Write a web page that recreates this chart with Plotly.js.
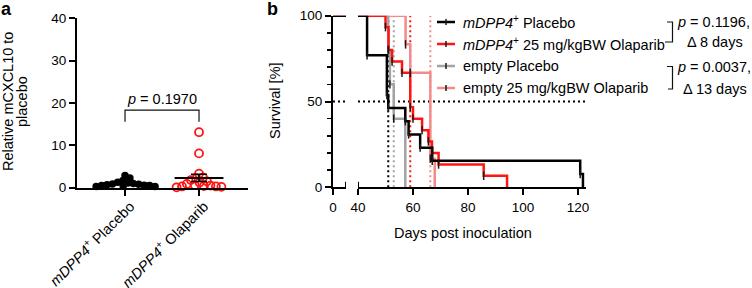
<!DOCTYPE html>
<html>
<head>
<meta charset="utf-8">
<script src="https://cdn.plot.ly/plotly-3.0.1.min.js"></script>
<style>
  html, body { margin: 0; padding: 0; background: #fff; }
  #chart { width: 752px; height: 288px; }
</style>
</head>
<body>
<div id="chart"></div>
<script>
// ---- Panel a: relative mCXCL10 per mouse ----
const groupLabels = ['<i>mDPP4</i><sup>+</sup> Placebo', '<i>mDPP4</i><sup>+</sup> Olaparib'];
const placeboValues = [2.9, 2.3, 1.7, 1.3, 1.1, 1.0, 0.9, 0.8, 0.7, 0.6, 0.5, 0.5, 0.4, 0.3, 0.3];
const olaparibValues = [13.1, 8.1, 3.3, 2.4, 2.2, 1.8, 1.5, 1.2, 0.9, 0.6, 0.5, 0.4, 0.3, 0.3, 0.2, 0.1];
const pValueA = '0.1970';

// ---- Panel b: Kaplan-Meier survival (day of event, survival % after it) ----
const seriesNames = [
  '<i>mDPP4</i><sup>+</sup> Placebo',
  '<i>mDPP4</i><sup>+</sup> 25 mg/kgBW Olaparib',
  'empty Placebo',
  'empty 25 mg/kgBW Olaparib'
];
const dppPlaceboDays = [0, 43.3, 50.5, 51.0, 57.2, 58.4, 62.6, 67.0, 120.8, 121.8];
const dppPlaceboSurv = [100, 76.9, 53.8, 46.2, 38.5, 30.8, 23.1, 15.4, 7.7, 0];
const dppOlaDays = [0, 50.0, 51.1, 52.4, 56.0, 59.0, 60.0, 63.3, 65.6, 66.9, 69.3, 85.7, 94.2];
const dppOlaSurv = [100, 93.3, 80.0, 73.3, 66.7, 46.7, 40.0, 33.3, 26.7, 20.0, 13.3, 6.7, 0];
const emptyPlaceboDays = [0, 51.0, 51.6, 53.0, 57.2];
const emptyPlaceboSurv = [100, 80, 60, 40, 0];
const emptyOlaDays = [0, 57.3, 59.0, 66.3, 67.9];
const emptyOlaSurv = [100, 83.3, 66.7, 16.7, 0];
const pValuesB = ['0.1196', '0.0037'];

const BLACK = '#000000', RED = '#ff1414', GRAY = '#a3a3a3', PINK = '#f48a8a';
const INK = '#000000';
const FONT = 'Liberation Sans, Arial, sans-serif';
const TXT = 14.5, TICK = 13.5;

// page geometry helpers (pixels -> paper fractions)
const W = 752, H = 288;
const fx = p => p / W;
const fy = p => 1 - p / H;

// ---- statistics ----
const mean = a => a.reduce((s, v) => s + v, 0) / a.length;
const sem = a => {
  const m = mean(a);
  return Math.sqrt(a.reduce((s, v) => s + (v - m) * (v - m), 0) / (a.length - 1) / a.length);
};
function kmMedian(days, surv) {
  for (let i = 0; i < days.length; i++) if (surv[i] <= 50) return days[i];
  return null;
}

// ---- simple beeswarm layout in pixel space ----
const aXDomain = [77, 248], aYDomain = [187.7, 18.3];
const aXRange = [-0.649, 1.662], aYRange = [0, 40];
const pxPerCat = (aXDomain[1] - aXDomain[0]) / (aXRange[1] - aXRange[0]);
const pxPerUnit = (aYDomain[0] - aYDomain[1]) / (aYRange[1] - aYRange[0]);
function swarm(values, center, d) {
  const order = values.map((v, i) => i).sort((a, b) => values[b] - values[a]);
  const placed = [];
  const xs = new Array(values.length);
  order.forEach(i => {
    const y = values[i] * pxPerUnit;
    const cands = [0];
    placed.forEach(p => {
      const dy = Math.abs(p.y - y);
      if (dy < d) {
        const dx = Math.sqrt(d * d - dy * dy);
        cands.push(p.x + dx, p.x - dx);
      }
    });
    cands.sort((a, b) => Math.abs(a) - Math.abs(b));
    const ok = c => placed.every(p => (p.x - c) ** 2 + (p.y - y) ** 2 >= d * d - 1e-6);
    const x = cands.find(ok);
    placed.push({ x, y });
    xs[i] = center + x / pxPerCat;
  });
  return xs;
}

const traces = [];

// panel a dots
traces.push({
  type: 'scatter', mode: 'markers', xaxis: 'x', yaxis: 'y', cliponaxis: false, showlegend: false,
  x: swarm(placeboValues, 0, 5.5), y: placeboValues,
  marker: { symbol: 'circle', size: 7.5, color: BLACK, line: { width: 0 } }
});
traces.push({
  type: 'scatter', mode: 'markers', xaxis: 'x', yaxis: 'y', cliponaxis: false, showlegend: false,
  x: swarm(olaparibValues, 1, 5.5), y: olaparibValues,
  marker: { symbol: 'circle-open', size: 8, color: RED, line: { width: 1.8, color: RED } }
});
// mean lines with SEM
[[placeboValues, 0, BLACK], [olaparibValues, 1, BLACK]].forEach(([vals, c, col]) => {
  const m = mean(vals), s = sem(vals);
  traces.push({
    type: 'scatter', mode: 'lines', xaxis: 'x', yaxis: 'y', cliponaxis: false, showlegend: false,
    x: [c - 0.33, c + 0.33], y: [m, m], line: { color: col, width: 2 }
  });
  traces.push({
    type: 'scatter', mode: 'markers', xaxis: 'x', yaxis: 'y', cliponaxis: false, showlegend: false,
    x: [c], y: [m], marker: { size: 1, opacity: 0 },
    error_y: { type: 'data', array: [s], visible: true, color: col, thickness: 1.5, width: 8 }
  });
});

// ---- panel b ----
const seg1 = [0, 13 / 2.75];
const seg2 = [40, 40 + 228 / 2.75];

function clipSteps(days, surv, lo, hi) {
  const valueAt = t => { let v = surv[0]; days.forEach((d, i) => { if (d <= t) v = surv[i]; }); return v; };
  const xs = [lo], ys = [valueAt(lo)];
  days.forEach((d, i) => { if (d > lo && d < hi) { xs.push(d); ys.push(surv[i]); } });
  if (days[days.length - 1] > hi) { xs.push(hi); ys.push(valueAt(hi)); }
  return { xs, ys };
}

const curves = [
  { name: seriesNames[3], days: emptyOlaDays, surv: emptyOlaSurv, color: PINK },
  { name: seriesNames[2], days: emptyPlaceboDays, surv: emptyPlaceboSurv, color: GRAY },
  { name: seriesNames[1], days: dppOlaDays, surv: dppOlaSurv, color: RED },
  { name: seriesNames[0], days: dppPlaceboDays, surv: dppPlaceboSurv, color: BLACK }
];
const DOT = '2px,3px';

// 50 % reference line on both axis segments
[['x2', seg1], ['x3', seg2]].forEach(([ax, r]) => {
  traces.push({
    type: 'scatter', mode: 'lines', xaxis: ax, yaxis: 'y2', showlegend: false, cliponaxis: false,
    x: r, y: [50, 50], line: { color: BLACK, width: 2, dash: DOT }
  });
});
// median survival lines
curves.forEach(cv => {
  const med = kmMedian(cv.days, cv.surv);
  traces.push({
    type: 'scatter', mode: 'lines', xaxis: 'x3', yaxis: 'y2', showlegend: false, cliponaxis: false,
    x: [med, med], y: [0, 100], line: { color: cv.color, width: 2, dash: DOT }
  });
});
// survival curves
curves.forEach(cv => {
  [['x2', seg1], ['x3', seg2]].forEach(([ax, r]) => {
    const c = clipSteps(cv.days, cv.surv, r[0], r[1]);
    traces.push({
      type: 'scatter', mode: 'lines', xaxis: ax, yaxis: 'y2', showlegend: false, cliponaxis: false,
      x: c.xs, y: c.ys, line: { color: cv.color, width: 2.5, shape: 'hv' }
    });
  });
});
// event tick marks
curves.forEach(cv => {
  const ex = [], ey = [];
  cv.days.forEach((d, i) => { if (d > 0 && cv.surv[i] > 0) { ex.push(d); ey.push(cv.surv[i]); } });
  traces.push({
    type: 'scatter', mode: 'markers', xaxis: 'x3', yaxis: 'y2', showlegend: false, cliponaxis: false,
    x: ex, y: ey, marker: { symbol: 'line-ns', size: 6, line: { width: 1.5, color: '#1a1a1a' } }
  });
});

// ---- legend, drawn as shapes + text ----
const shapes = [];
const annotations = [];
const legendRows = [22, 44, 66, 88];
const legendOrder = [3, 2, 1, 0];
legendOrder.forEach((ci, row) => {
  const cv = curves[ci], y = legendRows[row];
  shapes.push({ type: 'line', xref: 'paper', yref: 'paper', x0: fx(437), x1: fx(455), y0: fy(y), y1: fy(y),
    line: { color: cv.color, width: 2.5 } });
  shapes.push({ type: 'line', xref: 'paper', yref: 'paper', x0: fx(446), x1: fx(446), y0: fy(y - 3), y1: fy(y + 3),
    line: { color: '#1a1a1a', width: 1.5 } });
  annotations.push({ xref: 'paper', yref: 'paper', x: fx(461), y: fy(y), xanchor: 'left', yanchor: 'middle',
    text: cv.name, showarrow: false, font: { family: FONT, size: TXT, color: INK } });
});

// comparison brackets with p-values and median differences
const medians = curves.map(cv => kmMedian(cv.days, cv.surv));
const deltas = [Math.round(medians[2] - medians[3]), Math.round(medians[0] - medians[1])];
[[22, 42, 665], [66.5, 89, 668]].forEach(([y0, y1, xl], k) => {
  shapes.push({ type: 'path', xref: 'paper', yref: 'paper',
    path: `M${fx(667)},${fy(y0)} L${fx(672.5)},${fy(y0)} L${fx(672.5)},${fy(y1)} L${fx(xl)},${fy(y1)}`,
    line: { color: '#111', width: 1.2 } });
  annotations.push({ xref: 'paper', yref: 'paper', x: fx(713.5), y: fy(y0), xanchor: 'center', yanchor: 'middle',
    text: `<i>p</i> = ${pValuesB[k]},`, showarrow: false, font: { family: FONT, size: TXT, color: INK } });
  annotations.push({ xref: 'paper', yref: 'paper', x: fx(715), y: fy(y1), xanchor: 'center', yanchor: 'middle',
    text: `Δ ${deltas[k]} days`, showarrow: false, font: { family: FONT, size: TXT, color: INK } });
});

// axis-break marks
shapes.push({ type: 'line', xref: 'x2', yref: 'y2', x0: seg1[1], x1: seg1[1], y0: -3.2, y1: 3.2, line: { color: BLACK, width: 2 } });
shapes.push({ type: 'line', xref: 'x3', yref: 'y2', x0: seg2[0], x1: seg2[0], y0: 0, y1: 3.2, line: { color: BLACK, width: 2 } });

// panel a significance bracket
shapes.push({ type: 'path', xref: 'x', yref: 'y', path: 'M0,15.6 L0,18.3 L1,18.3 L1,15.6',
  line: { color: '#111', width: 1.2 } });
annotations.push({ xref: 'x', yref: 'y', x: 0.5, y: 18.6, xanchor: 'center', yanchor: 'bottom',
  text: `<i>p</i> = ${pValueA}`, showarrow: false, font: { family: FONT, size: TXT, color: INK } });

// panel a category labels, slanted under their ticks
groupLabels.forEach((lab, i) => {
  annotations.push({ xref: 'x', yref: 'paper', x: i + 15 / pxPerCat, y: fy(194), xanchor: 'right', yanchor: 'top',
    textangle: -45, text: lab, showarrow: false, font: { family: FONT, size: TXT, color: INK } });
});

// panel letters and axis titles
annotations.push({ xref: 'paper', yref: 'paper', x: fx(-1), y: fy(9), xanchor: 'left', yanchor: 'middle',
  text: '<b>a</b>', showarrow: false, font: { family: FONT, size: 18, color: '#000' } });
annotations.push({ xref: 'paper', yref: 'paper', x: fx(265), y: fy(9), xanchor: 'left', yanchor: 'middle',
  text: '<b>b</b>', showarrow: false, font: { family: FONT, size: 18, color: '#000' } });
annotations.push({ xref: 'paper', yref: 'paper', x: fx(8), y: fy(102), xanchor: 'center', yanchor: 'middle',
  textangle: -90, text: 'Relative mCXCL10 to', showarrow: false, font: { family: FONT, size: TXT, color: INK } });
annotations.push({ xref: 'paper', yref: 'paper', x: fx(22), y: fy(102), xanchor: 'center', yanchor: 'middle',
  textangle: -90, text: 'placebo', showarrow: false, font: { family: FONT, size: TXT, color: INK } });
annotations.push({ xref: 'paper', yref: 'paper', x: fx(275), y: fy(101), xanchor: 'center', yanchor: 'middle',
  textangle: -90, text: 'Survival [%]', showarrow: false, font: { family: FONT, size: TXT, color: INK } });
annotations.push({ xref: 'paper', yref: 'paper', x: fx(463), y: fy(233), xanchor: 'center', yanchor: 'middle',
  text: 'Days post inoculation', showarrow: false, font: { family: FONT, size: TXT, color: INK } });

const axisBase = {
  showline: true, linecolor: BLACK, linewidth: 2, ticks: 'outside', ticklen: 6, tickwidth: 2,
  tickcolor: BLACK, showgrid: false, zeroline: false, fixedrange: true,
  tickfont: { family: FONT, size: TICK, color: INK }
};

const layout = {
  width: W, height: H, margin: { l: 0, r: 0, t: 0, b: 0 },
  paper_bgcolor: '#fff', plot_bgcolor: 'rgba(0,0,0,0)', showlegend: false,
  font: { family: FONT, size: TXT, color: INK },
  xaxis: Object.assign({}, axisBase, {
    domain: [fx(aXDomain[0]), fx(aXDomain[1])], range: aXRange, anchor: 'y',
    tickmode: 'array', tickvals: [0, 1], showticklabels: false
  }),
  yaxis: Object.assign({}, axisBase, {
    domain: [fy(aYDomain[0]), fy(aYDomain[1])], range: aYRange, anchor: 'x', dtick: 10
  }),
  xaxis2: Object.assign({}, axisBase, {
    domain: [fx(333), fx(346)], range: seg1, anchor: 'y2', tickmode: 'array', tickvals: [0]
  }),
  xaxis3: Object.assign({}, axisBase, {
    domain: [fx(358), fx(586)], range: seg2, anchor: 'y2', tickmode: 'array', tickvals: [40, 60, 80, 100, 120]
  }),
  yaxis2: Object.assign({}, axisBase, {
    domain: [fy(187.3), fy(15.7)], range: [0, 100], anchor: 'x2', tickmode: 'array', tickvals: [0, 50, 100],
    minor: { tickmode: 'linear', dtick: 10, ticks: 'outside', ticklen: 4, tickwidth: 1.5, tickcolor: BLACK }
  }),
  shapes, annotations
};

Plotly.newPlot('chart', traces, layout, { displayModeBar: false, staticPlot: true });
</script>
</body>
</html>
